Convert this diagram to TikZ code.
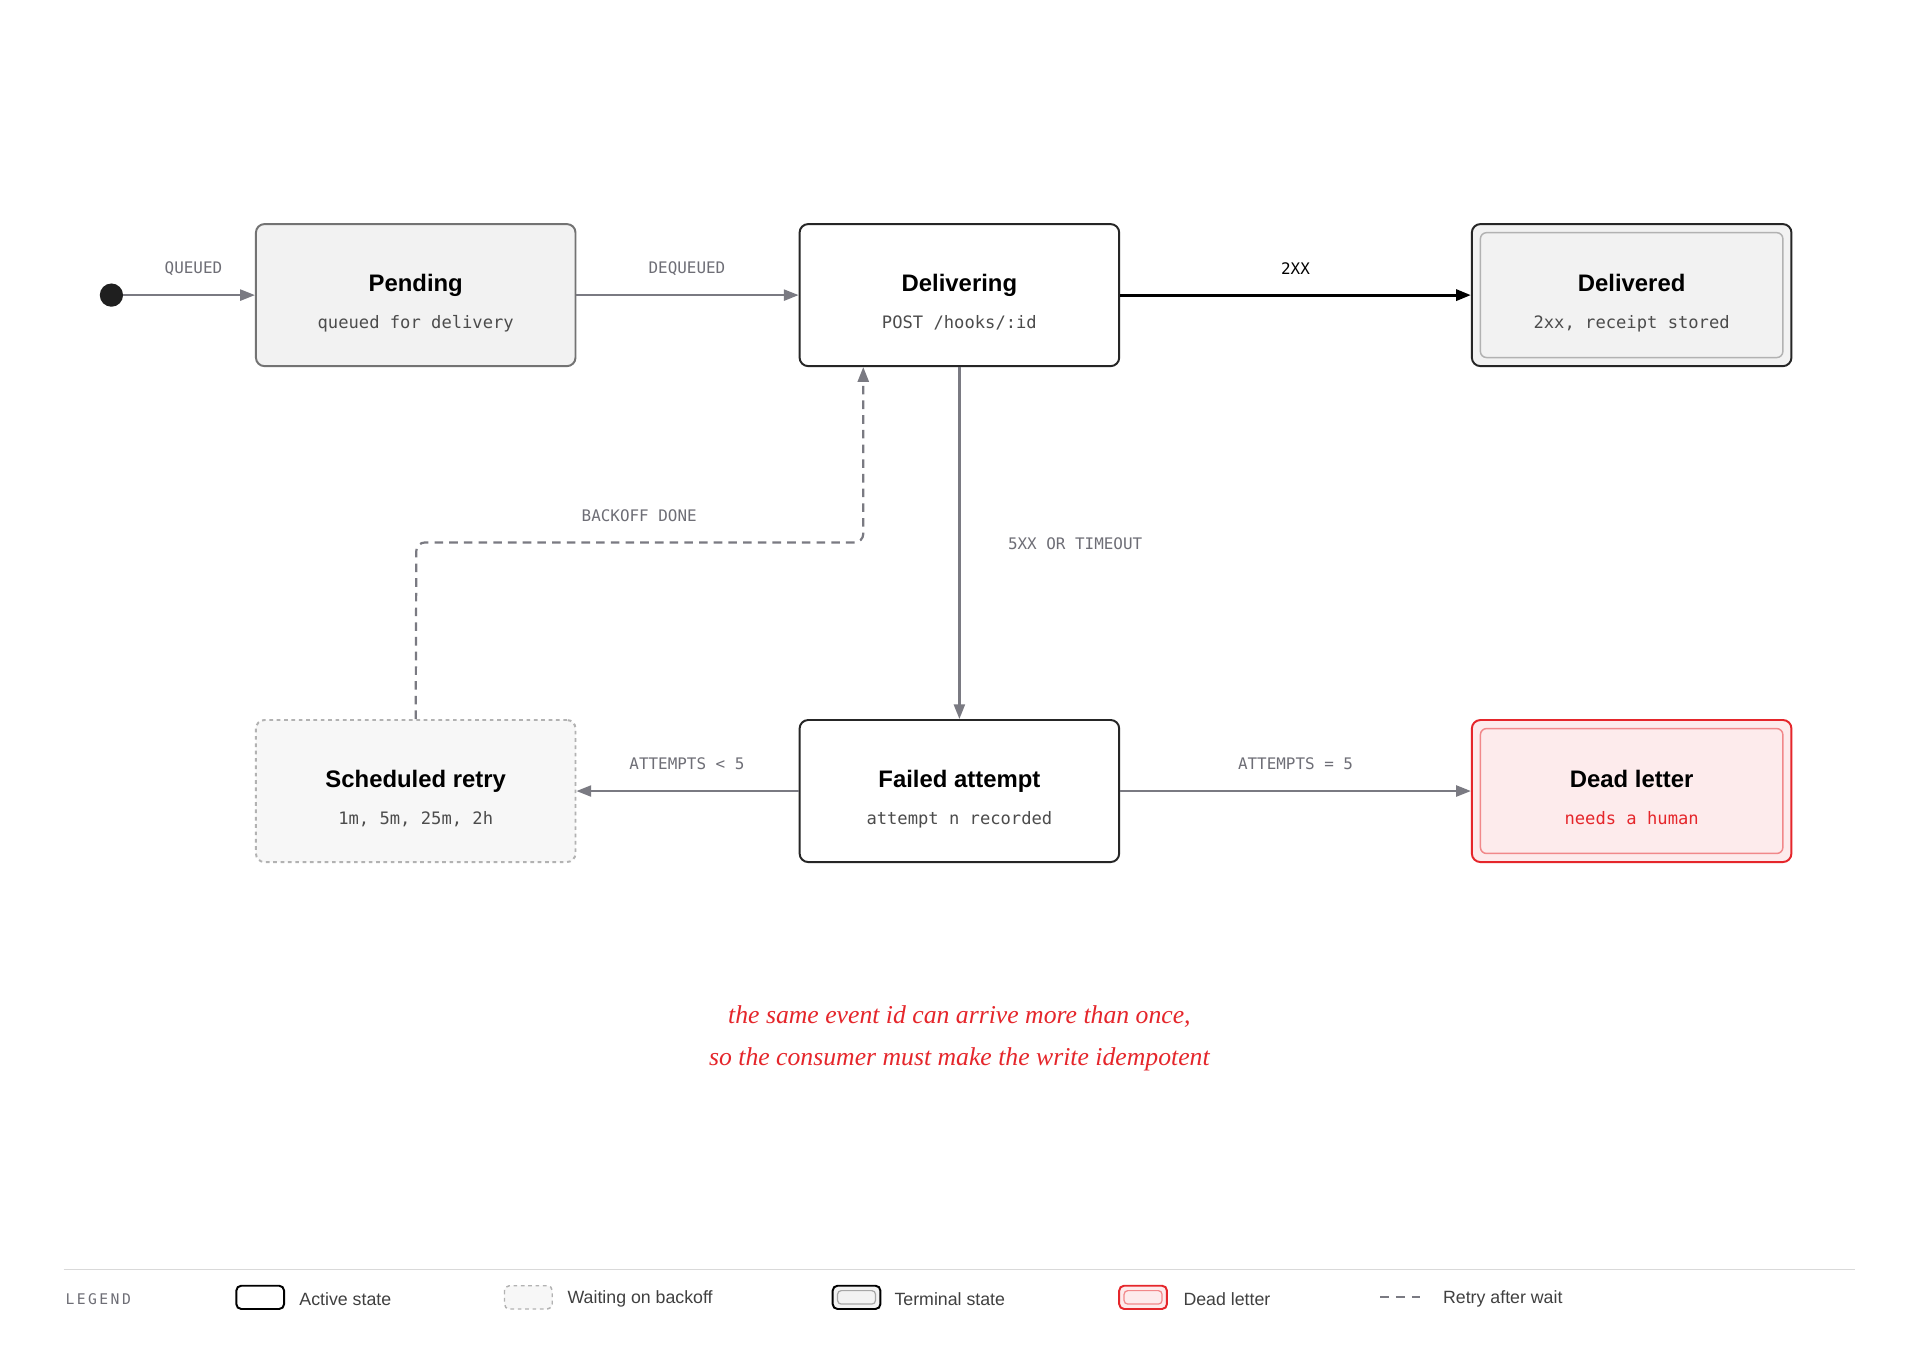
\documentclass[tikz,border=0pt]{standalone}
\usepackage{fontspec}
\setmainfont{Liberation Sans}
\setmonofont{DejaVu Sans Mono}
\newfontfamily\notefont{Liberation Serif}
\usetikzlibrary{arrows.meta}
\definecolor{edge}{HTML}{7A7A82}
\definecolor{lbl}{HTML}{6E6E76}
\definecolor{dl}{HTML}{E5262B}
\begin{document}
\begin{tikzpicture}[x=1pt,y=-1pt,
  box/.style={draw=black!85,line width=1.6pt,rounded corners=7pt,minimum width=261pt,minimum height=116pt,fill=white,inner sep=0pt},
  ttl/.style={anchor=base,font=\fontsize{19.5}{22}\selectfont\bfseries},
  sub/.style={anchor=base,font=\ttfamily\fontsize{14}{16}\selectfont,text=black!70},
  el/.style={font=\ttfamily\fontsize{13}{15}\selectfont,text=lbl},
  ed/.style={draw=edge,line width=1.8pt,-{Triangle[length=12pt,width=9pt]}},
]
\useasboundingbox (0,0) rectangle (1568,1098);
\fill[white] (0,0) rectangle (1568,1098);
% nodes
\node[box,draw=black!55,fill=black!5] (pend) at (339.5,241) {};
\node[box] (deliv) at (783.5,241) {};
\node[box,fill=black!5] (done) at (1332.5,241) {};
\draw[black!30,line width=1.2pt,rounded corners=5pt,fill=black!5] (1209,190) rectangle (1456,292);
\node[box,draw=black!30,dashed,fill=black!3] (retry) at (339.5,646) {};
\node[box] (fail) at (783.5,646) {};
\node[box,draw=dl,fill=dl!9] (dead) at (1332.5,646) {};
\draw[dl!55,line width=1.2pt,rounded corners=5pt] (1209,595) rectangle (1456,697);
\foreach \n/\t/\s in {pend/Pending/queued for delivery,deliv/Delivering/{POST /hooks/:id},done/Delivered/{2xx, receipt stored},retry/Scheduled retry/{1m, 5m, 25m, 2h},fail/Failed attempt/attempt n recorded}{
  \node[ttl] at ([yshift=3pt]\n.center) {\t};
  \node[sub] at ([yshift=-27pt]\n.center) {\s};
}
\node[ttl] at ([yshift=3pt]dead.center) {Dead letter};
\node[sub,text=dl] at ([yshift=-27pt]dead.center) {needs a human};
% start
\fill[black!88] (91,241) circle (9.5);
\node[circle,minimum size=19pt,inner sep=0pt] (st) at (91,241) {};
% edges
\draw[ed] (st) -- (pend);
\node[el] at (158,219) {QUEUED};
\draw[ed] (pend) -- (deliv);
\node[el] at (561,219) {DEQUEUED};
\draw[ed,draw=black,line width=2.4pt] (deliv) -- (done);
\node[el,text=black] at (1058,219) {2XX};
\draw[ed] (deliv) -- (fail);
\node[el] at (878,444) {5XX OR TIMEOUT};
\draw[ed] (fail) -- (retry);
\node[el] at (561,624) {ATTEMPTS < 5};
\draw[ed] (fail) -- (dead);
\node[el] at (1058,624) {ATTEMPTS = 5};
\draw[ed,dash pattern=on 7pt off 5pt,rounded corners=7pt] (retry.north) -- (340,443) -- (705,443) -- (deliv.south -| 705,0);
\node[el] at (522,421) {BACKOFF DONE};
% note
\node[font=\notefont\itshape\fontsize{21}{24}\selectfont,text=dl,align=center] (note) at (783.5,848) {the same event id can arrive more than once,\\[10pt]so the consumer must make the write idempotent};
% legend
\draw[black!15,line width=1pt] (52,1037) -- (1515,1037);
\node[font=\ttfamily\fontsize{12}{14}\selectfont,text=lbl,anchor=west] at (50,1061) {L\,E\,G\,E\,N\,D};
\tikzset{lt/.style={anchor=west,font=\fontsize{14.5}{16}\selectfont,text=black!75}}
\draw[black,line width=1.6pt,rounded corners=4pt] (193,1050) rectangle (232,1069);
\node[lt] at (241,1061) {Active state};
\draw[black!30,line width=1.2pt,dashed,rounded corners=4pt,fill=black!3] (412,1050) rectangle (451,1069);
\node[lt] at (460,1061) {Waiting on backoff};
\draw[black,line width=1.6pt,rounded corners=4pt,fill=black!5] (680,1050) rectangle (719,1069);
\draw[black!35,line width=1pt,rounded corners=3pt] (684,1054) rectangle (715,1065);
\node[lt] at (727,1061) {Terminal state};
\draw[dl,line width=1.6pt,rounded corners=4pt,fill=dl!9] (914,1050) rectangle (953,1069);
\draw[dl!55,line width=1pt,rounded corners=3pt] (918,1054) rectangle (949,1065);
\node[lt] at (963,1061) {Dead letter};
\draw[edge,line width=1.6pt,dash pattern=on 7pt off 6pt] (1127,1059) -- (1166,1059);
\node[lt] at (1175,1061) {Retry after wait};
\end{tikzpicture}
\end{document}
